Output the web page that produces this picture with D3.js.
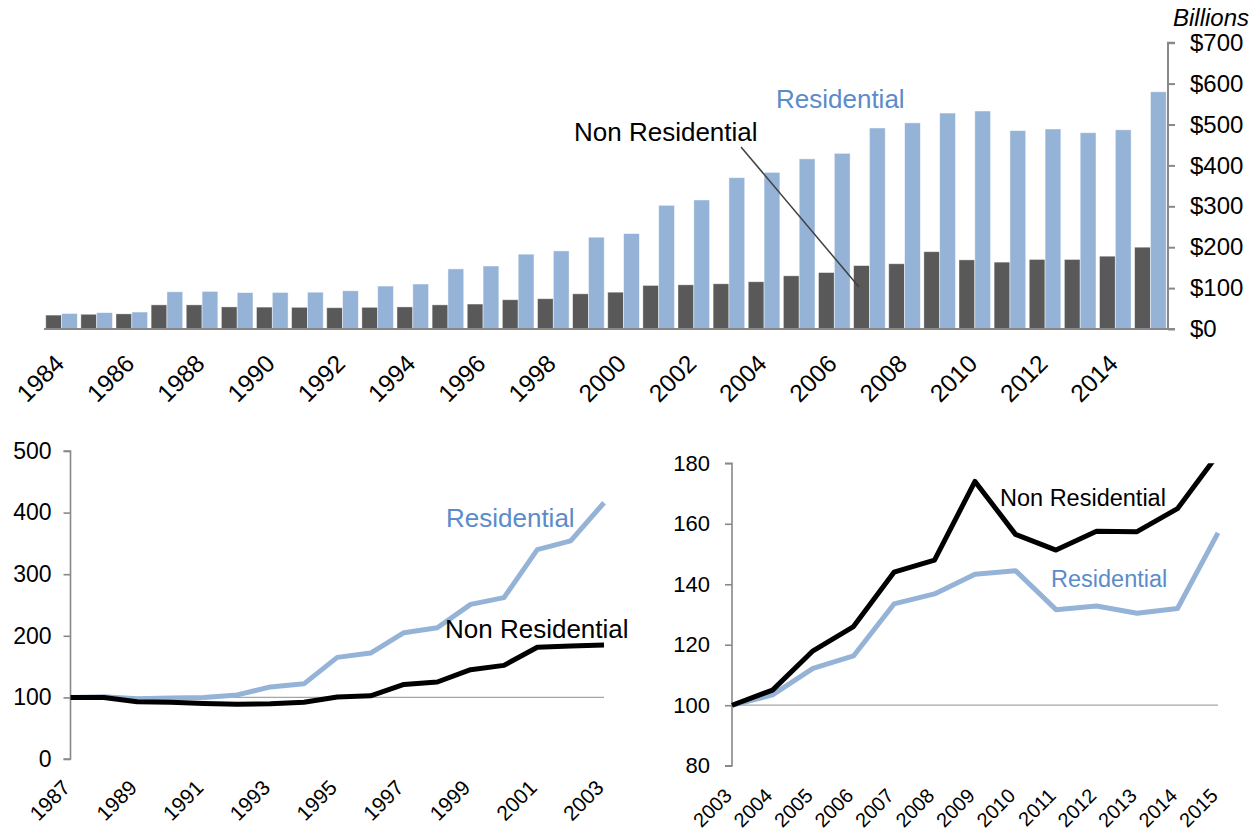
<!DOCTYPE html>
<html>
<head>
<meta charset="utf-8">
<script src="https://cdn.jsdelivr.net/npm/d3@7"></script>
<style>
  html, body { margin: 0; padding: 0; background: #fff; }
  svg { display: block; font-family: "Liberation Sans", Arial, sans-serif; }
</style>
</head>
<body>
<svg id="chart" width="1260" height="834"></svg>
<script>
// ---------- Data ----------
const topYears = [1984,1985,1986,1987,1988,1989,1990,1991,1992,1993,1994,1995,1996,1997,1998,1999,2000,2001,2002,2003,2004,2005,2006,2007,2008,2009,2010,2011,2012,2013,2014,2015];
const topNonRes = [34,36,37,59,59,54,53.5,53,52,53,54,59,61,71.5,74,86,90,106.5,108,110.5,115.5,130,138,155,159.5,189,169,163.5,170,170,178,200];
const topRes = [38,40,41.5,91,92,89,89.5,90,93.5,105,110,147,154,183,191,224.5,233.5,302.5,315.5,370,383,416,429.5,491.5,504,528,533,485,489,480,487,580];
const topYTicks = [0,100,200,300,400,500,600,700];
const topXLabels = [1984,1986,1988,1990,1992,1994,1996,1998,2000,2002,2004,2006,2008,2010,2012,2014];

const blYears = [1987,1988,1989,1990,1991,1992,1993,1994,1995,1996,1997,1998,1999,2000,2001,2002,2003];
const blRes = [100,101,98,99,100,104,117,122,165,172,205,213,251,262,340,354,416];
const blNonRes = [100,100,93,92,90,89,89.5,92,100.5,102.5,121,125,145,152,181.5,183.5,185];
const blYTicks = [0,100,200,300,400,500];
const blXLabels = [1987,1989,1991,1993,1995,1997,1999,2001,2003];

const brYears = [2003,2004,2005,2006,2007,2008,2009,2010,2011,2012,2013,2014,2015];
const brNonRes = [100,105,118,126,144,148,174,156.5,151.3,157.5,157.4,165,183];
const brRes = [100,103.4,112.2,116.3,133.5,136.8,143.3,144.5,131.6,132.8,130.4,132,157];
const brYTicks = [80,100,120,140,160,180];
const brXLabels = brYears;

// ---------- Styles ----------
const DARK = "#595959", BLUE = "#95B3D7", BLUE_TEXT = "#5B8BC9", AXIS = "#888888";

const svg = d3.select("#chart");

// ================= TOP BAR CHART =================
(function(){
  const x0 = d3.scaleBand().domain(topYears).range([44, 1168]).paddingInner(0.1).paddingOuter(0.05);
  const x1 = d3.scaleBand().domain(["non","res"]).range([0, x0.bandwidth()]);
  const y = d3.scaleLinear().domain([0, 700]).range([329, 42.7]);
  const g = svg.append("g");

  const groups = g.selectAll("g.yr").data(topYears.map((yr, i) => ({yr, non: topNonRes[i], res: topRes[i]})))
    .enter().append("g").attr("transform", d => `translate(${x0(d.yr)},0)`);
  groups.append("rect").attr("x", x1("non")).attr("width", x1.bandwidth())
    .attr("y", d => y(d.non)).attr("height", d => y(0) - y(d.non))
    .attr("fill", DARK).attr("stroke", "rgba(255,255,255,0.5)").attr("stroke-width", 0.8);
  groups.append("rect").attr("x", x1("res")).attr("width", x1.bandwidth())
    .attr("y", d => y(d.res)).attr("height", d => y(0) - y(d.res))
    .attr("fill", BLUE).attr("stroke", "rgba(255,255,255,0.6)").attr("stroke-width", 0.8);

  // baseline
  g.append("line").attr("x1", 44).attr("x2", 1168).attr("y1", y(0)).attr("y2", y(0))
    .attr("stroke", AXIS).attr("stroke-width", 2);

  // right axis
  const ax = g.append("g").attr("transform", "translate(1168,0)")
    .call(d3.axisRight(y).tickValues(topYTicks).tickSize(7).tickPadding(15).tickFormat(d => "$" + d));
  ax.select(".domain").attr("stroke", AXIS).attr("stroke-width", 2).attr("d", `M7,${y(700)}H0V${y(0)}H7`);
  ax.selectAll(".tick line").attr("stroke", AXIS).attr("stroke-width", 2);
  ax.selectAll(".tick text").attr("font-size", 24).attr("fill", "#000").attr("font-family", "Liberation Sans, Arial");

  g.append("text").attr("x", 1249).attr("y", 26).attr("text-anchor", "end")
    .attr("font-size", 24).attr("font-style", "italic").text("Billions");

  // x labels
  g.selectAll("text.xl").data(topXLabels).enter().append("text")
    .attr("transform", d => `translate(${x0(d) + x0.bandwidth()/2 + 4},365) rotate(-45)`)
    .attr("text-anchor", "end").attr("font-size", 24.5).text(d => d);

  // series labels
  g.append("text").attr("x", 776).attr("y", 108).attr("font-size", 26).attr("fill", BLUE_TEXT).text("Residential");
  g.append("text").attr("x", 574).attr("y", 141).attr("font-size", 26).attr("fill", "#000").text("Non Residential");
  g.append("line").attr("x1", 741).attr("y1", 147).attr("x2", 859).attr("y2", 287)
    .attr("stroke", "#404040").attr("stroke-width", 1.5);
})();

// ================= LINE CHART helper =================
function lineChart(opts){
  const g = svg.append("g");
  const x = d3.scaleLinear().domain([opts.years[0], opts.years[opts.years.length-1]]).range(opts.xr);
  const y = d3.scaleLinear().domain(opts.yd).range(opts.yr);
  const clipId = opts.id + "-clip";
  g.append("clipPath").attr("id", clipId).append("rect")
    .attr("x", opts.xr[0] - 5).attr("width", opts.xr[1] - opts.xr[0] + 10)
    .attr("y", opts.yr[1]).attr("height", opts.yr[0] - opts.yr[1]);

  // y axis
  const ay = g.append("g").attr("transform", `translate(${opts.xr[0]},0)`)
    .call(d3.axisLeft(y).tickValues(opts.yTicks).tickSize(7).tickPadding(opts.tickPad));
  ay.select(".domain").attr("stroke", AXIS).attr("stroke-width", 1.6).attr("d", `M-7,${opts.yr[1]}H0V${opts.yr[0]}H-7`);
  ay.selectAll(".tick line").attr("stroke", AXIS).attr("stroke-width", 1.6);
  ay.selectAll(".tick text").attr("font-size", opts.tickFont).attr("fill", "#000").attr("font-family", "Liberation Sans, Arial");

  // horizontal line at 100
  g.append("line").attr("x1", opts.xr[0]).attr("x2", opts.xr[1]).attr("y1", y(100)).attr("y2", y(100))
    .attr("stroke", "#a6a6a6").attr("stroke-width", 1.3);

  const line = d3.line().x((d, i) => x(opts.years[i])).y(d => y(d));
  const lg = g.append("g").attr("clip-path", `url(#${clipId})`);
  lg.append("path").datum(opts.res).attr("d", line).attr("fill", "none")
    .attr("stroke", BLUE).attr("stroke-width", 5).attr("stroke-linejoin", "round");
  lg.append("path").datum(opts.non).attr("d", line).attr("fill", "none")
    .attr("stroke", "#000").attr("stroke-width", 5).attr("stroke-linejoin", "round");

  // x labels
  g.selectAll("text.xl").data(opts.xLabels).enter().append("text")
    .attr("transform", d => `translate(${x(d) + 1},${opts.xLabelY}) rotate(-45)`)
    .attr("text-anchor", "end").attr("font-size", opts.xFont).text(d => d);

  // series labels
  g.append("text").attr("x", opts.resLabel[0]).attr("y", opts.resLabel[1]).attr("font-size", opts.labFont)
    .attr("fill", BLUE_TEXT).text("Residential");
  g.append("text").attr("x", opts.nonLabel[0]).attr("y", opts.nonLabel[1]).attr("font-size", opts.labFont)
    .attr("fill", "#000").text("Non Residential");
}

lineChart({
  id: "bl", years: blYears, res: blRes, non: blNonRes,
  xr: [70.5, 604], yd: [0, 500], yr: [759, 451], yTicks: blYTicks,
  tickPad: 12, tickFont: 23, xLabels: blXLabels, xLabelY: 789, xFont: 21,
  resLabel: [446, 527], nonLabel: [445, 638], labFont: 26
});

lineChart({
  id: "br", years: brYears, res: brRes, non: brNonRes,
  xr: [732, 1218], yd: [80, 180], yr: [765.7, 463.3], yTicks: brYTicks,
  tickPad: 15, tickFont: 22, xLabels: brXLabels, xLabelY: 797, xFont: 20,
  resLabel: [1051, 587], nonLabel: [1000, 506], labFont: 23.5
});
</script>
</body>
</html>
